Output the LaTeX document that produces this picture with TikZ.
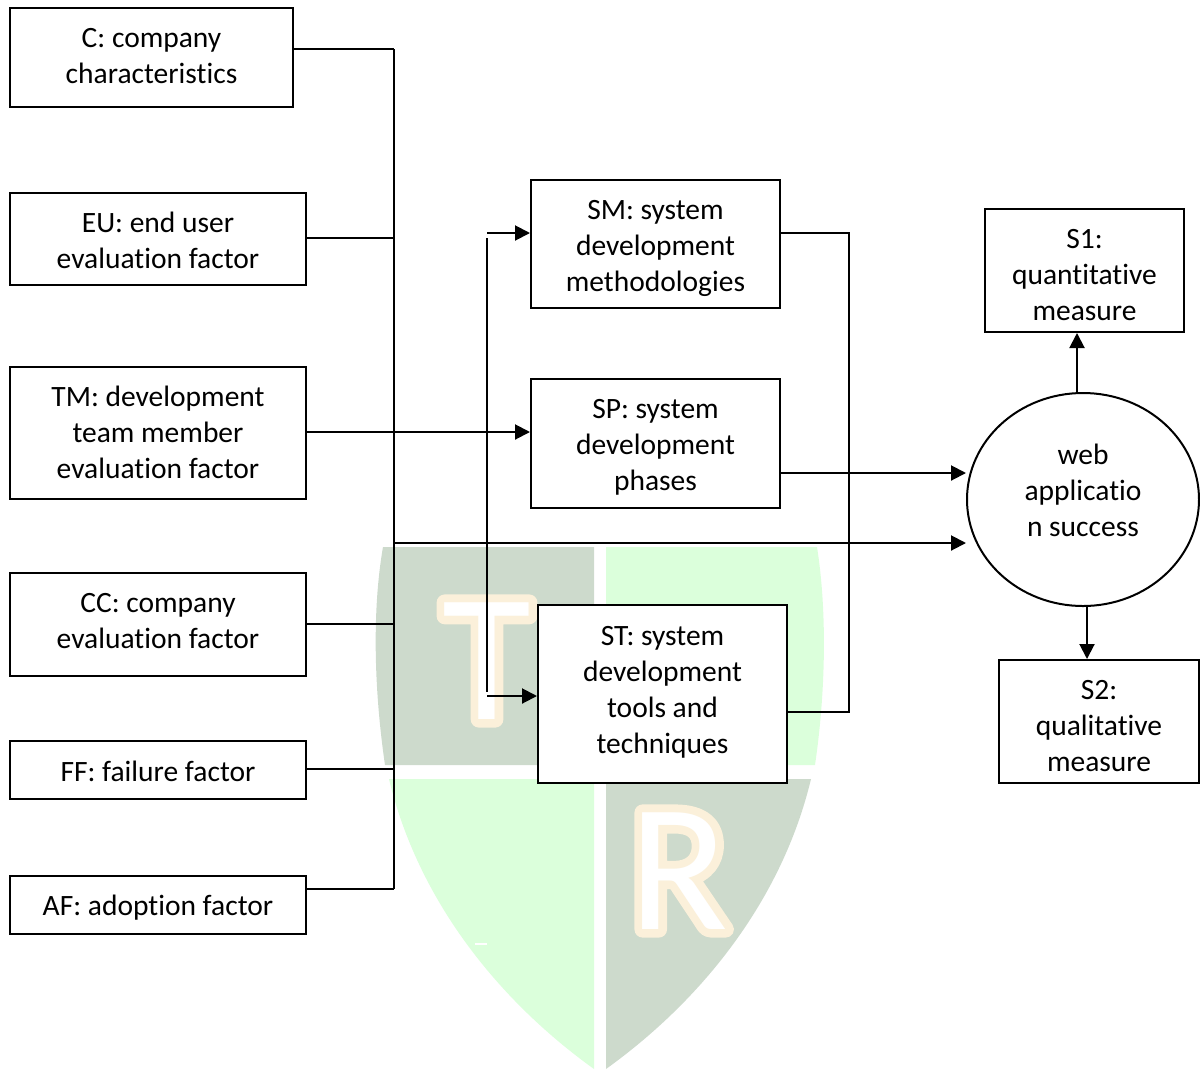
\documentclass[tikz,border=0pt]{standalone}
\usepackage{fontspec}
\setmainfont[Ligatures=NoCommon]{Carlito}
\usetikzlibrary{arrows.meta,shapes.geometric}
\newfontfamily\wmglow[FakeBold=9]{Carlito}
\newfontfamily\wmfill{Carlito}
\definecolor{wmdark}{HTML}{CDDACC}
\definecolor{wmlight}{HTML}{DBFFDB}
\definecolor{wmglowc}{HTML}{FBF0DA}
\newcommand{\lbl}[2]{\raisebox{#1}[10pt][10pt]{\begin{tabular}[c]{@{}c@{}}#2\end{tabular}}}
\tikzset{
  x=1pt,y=-1pt,
  boxnode/.style={draw=black,fill=white,line width=2pt,rectangle,inner sep=0pt,font=\fontsize{29.5}{36}\selectfont,text=black},
  wire/.style={draw=black,line width=2pt},
  arrowwire/.style={wire,-{Triangle[length=15pt,width=15pt]}},
  wmletter/.style={inner sep=0pt,font=\fontsize{182}{182}\wmfill,text=white},
  wmletterglow/.style={inner sep=0pt,font=\fontsize{182}{182}\wmglow,text=wmglowc},
}
\begin{document}
\begin{tikzpicture}
\useasboundingbox (0,0) rectangle (1200,1069);
% watermark shield
\fill[wmdark] (383,547) -- (594,547) -- (594,765) -- (385,765) .. controls (374,690) and (372,610) .. cycle;
\fill[wmlight] (606,547) -- (817,547) .. controls (827,610) and (826,690) .. (815,765) -- (606,765) -- cycle;
\fill[wmlight] (389,779) -- (594,779) -- (594,1069) .. controls (498,1000) and (418,900) .. cycle;
\fill[wmdark] (606,779) -- (811,779) .. controls (782,900) and (702,1000) .. (606,1069) -- cycle;
\fill[white] (475,943) rectangle (487,945);
\begin{scope}[line join=round]
\node[wmletterglow] (wmTg) at (487,661) {T};
\node[wmletter] (wmT) at (487,661) {T};
\node[wmletterglow] (wmRg) at (679,871) {R};
\node[wmletter] (wmR) at (679,871) {R};
\end{scope}
% boxes
\node[boxnode,minimum width=283pt,minimum height=99pt] (c) at (151.5,57.5) {\lbl{-7pt}{C: company\\characteristics}};
\node[boxnode,minimum width=296pt,minimum height=92pt] (eu) at (158,239) {\lbl{-10.5pt}{EU: end user\\evaluation factor}};
\node[boxnode,minimum width=296pt,minimum height=132pt] (tm) at (158,433) {\lbl{-8.5pt}{TM: development\\team member\\evaluation factor}};
\node[boxnode,minimum width=296pt,minimum height=103pt] (cc) at (158,624.5) {\lbl{-5pt}{CC: company\\evaluation factor}};
\node[boxnode,minimum width=296pt,minimum height=58pt] (ff) at (158,770) {\lbl{-10.5pt}{FF: failure factor}};
\node[boxnode,minimum width=296pt,minimum height=58pt] (af) at (158,905) {\lbl{-9.5pt}{AF: adoption factor}};
\node[boxnode,minimum width=249pt,minimum height=128pt] (sm) at (655.5,244) {\lbl{-10.5pt}{SM: system\\development\\methodologies}};
\node[boxnode,minimum width=249pt,minimum height=129pt] (sp) at (655.5,443.5) {\lbl{-10pt}{SP: system\\development\\phases}};
\node[boxnode,minimum width=249pt,minimum height=178pt] (st) at (662.5,694) {\lbl{-4.5pt}{ST: system\\development\\tools and\\techniques}};
\node[boxnode,minimum width=199pt,minimum height=123pt] (s1) at (1084.5,270.5) {\lbl{-13pt}{S1:\\quantitative\\measure}};
\node[boxnode,minimum width=200pt,minimum height=123pt] (s2) at (1099,721.5) {\lbl{-13pt}{S2:\\qualitative\\measure}};
\node[boxnode,shape=ellipse,minimum width=232pt,minimum height=213pt] (web) at (1083,499.5) {\lbl{0pt}{web\\applicatio\\n success}};
% junction coordinates
\coordinate (busC) at (394,49);
\coordinate (busEU) at (394,238);
\coordinate (busCC) at (394,624);
\coordinate (busFF) at (394,769);
\coordinate (busAF) at (394,889);
\coordinate (busOut) at (394,543);
\coordinate (tmOut) at (394,432);
\coordinate (splitTop) at (487,238);
\coordinate (splitBot) at (487,692);
\coordinate (tapSM) at (487,233);
\coordinate (tapST) at (487,696);
\coordinate (collTop) at (849,233);
\coordinate (collBot) at (849,712);
\coordinate (spOut) at (780,473);
\coordinate (upOut) at (1077,393);
\coordinate (downOut) at (1087,606);
% connectors
\draw[wire] (busC) -- (busAF);
\draw[wire] (c.east|-busC) -- (busC);
\draw[wire] (eu.east|-busEU) -- (busEU);
\draw[wire] (cc.east|-busCC) -- (busCC);
\draw[wire] (ff.east|-busFF) -- (busFF);
\draw[wire] (af.east|-busAF) -- (busAF);
\draw[arrowwire] (tm.east|-tmOut) -- (sp.west|-tmOut);
\draw[arrowwire] (busOut) -- (web.west|-busOut);
\draw[arrowwire] (sp.east|-spOut) -- (web.west|-spOut);
\draw[wire] (splitTop) -- (splitBot);
\draw[arrowwire] (tapSM) -- (sm.west|-tapSM);
\draw[arrowwire] (tapST) -- (st.west|-tapST);
\draw[wire] (sm.east|-collTop) -- (collTop) -- (collBot) -- (st.east|-collBot);
\draw[arrowwire] (upOut) -- (upOut|-s1.south);
\draw[arrowwire] (downOut) -- (downOut|-s2.north);
\end{tikzpicture}
\end{document}
